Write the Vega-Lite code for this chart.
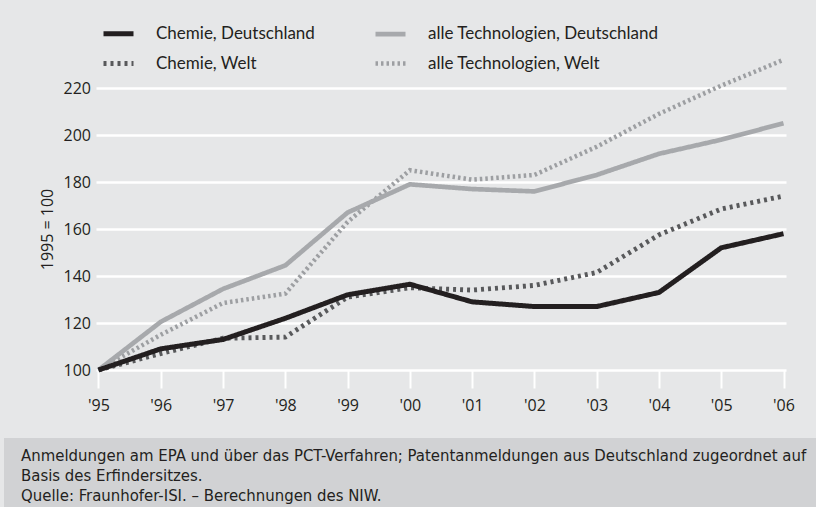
{
  "$schema": "https://vega.github.io/schema/vega-lite/v6.json",
  "background": "#e6e7e8",
  "padding": {"left": 4, "top": 16, "right": 0, "bottom": 0},
  "spacing": 25,
  "config": {"view": {"stroke": null}, "font": "Open Sans"},
  "vconcat": [
    {
      "width": 812,
      "height": 282,
      "data": {
        "values": [
          {"reihe": "alle Technologien, Welt", "jahr": "'95", "wert": 100},
          {"reihe": "alle Technologien, Welt", "jahr": "'96", "wert": 115},
          {"reihe": "alle Technologien, Welt", "jahr": "'97", "wert": 128.5},
          {"reihe": "alle Technologien, Welt", "jahr": "'98", "wert": 132.5},
          {"reihe": "alle Technologien, Welt", "jahr": "'99", "wert": 163},
          {"reihe": "alle Technologien, Welt", "jahr": "'00", "wert": 185},
          {"reihe": "alle Technologien, Welt", "jahr": "'01", "wert": 181},
          {"reihe": "alle Technologien, Welt", "jahr": "'02", "wert": 183},
          {"reihe": "alle Technologien, Welt", "jahr": "'03", "wert": 195},
          {"reihe": "alle Technologien, Welt", "jahr": "'04", "wert": 209},
          {"reihe": "alle Technologien, Welt", "jahr": "'05", "wert": 221},
          {"reihe": "alle Technologien, Welt", "jahr": "'06", "wert": 232},
          {"reihe": "alle Technologien, Deutschland", "jahr": "'95", "wert": 100},
          {"reihe": "alle Technologien, Deutschland", "jahr": "'96", "wert": 120.5},
          {"reihe": "alle Technologien, Deutschland", "jahr": "'97", "wert": 134.5},
          {"reihe": "alle Technologien, Deutschland", "jahr": "'98", "wert": 144.5},
          {"reihe": "alle Technologien, Deutschland", "jahr": "'99", "wert": 167},
          {"reihe": "alle Technologien, Deutschland", "jahr": "'00", "wert": 179},
          {"reihe": "alle Technologien, Deutschland", "jahr": "'01", "wert": 177},
          {"reihe": "alle Technologien, Deutschland", "jahr": "'02", "wert": 176},
          {"reihe": "alle Technologien, Deutschland", "jahr": "'03", "wert": 183},
          {"reihe": "alle Technologien, Deutschland", "jahr": "'04", "wert": 192},
          {"reihe": "alle Technologien, Deutschland", "jahr": "'05", "wert": 198},
          {"reihe": "alle Technologien, Deutschland", "jahr": "'06", "wert": 205},
          {"reihe": "Chemie, Welt", "jahr": "'95", "wert": 100},
          {"reihe": "Chemie, Welt", "jahr": "'96", "wert": 107},
          {"reihe": "Chemie, Welt", "jahr": "'97", "wert": 113.5},
          {"reihe": "Chemie, Welt", "jahr": "'98", "wert": 114},
          {"reihe": "Chemie, Welt", "jahr": "'99", "wert": 131},
          {"reihe": "Chemie, Welt", "jahr": "'00", "wert": 135},
          {"reihe": "Chemie, Welt", "jahr": "'01", "wert": 134},
          {"reihe": "Chemie, Welt", "jahr": "'02", "wert": 136},
          {"reihe": "Chemie, Welt", "jahr": "'03", "wert": 141.5},
          {"reihe": "Chemie, Welt", "jahr": "'04", "wert": 157.5},
          {"reihe": "Chemie, Welt", "jahr": "'05", "wert": 168.5},
          {"reihe": "Chemie, Welt", "jahr": "'06", "wert": 174},
          {"reihe": "Chemie, Deutschland", "jahr": "'95", "wert": 100},
          {"reihe": "Chemie, Deutschland", "jahr": "'96", "wert": 109},
          {"reihe": "Chemie, Deutschland", "jahr": "'97", "wert": 113},
          {"reihe": "Chemie, Deutschland", "jahr": "'98", "wert": 122},
          {"reihe": "Chemie, Deutschland", "jahr": "'99", "wert": 132},
          {"reihe": "Chemie, Deutschland", "jahr": "'00", "wert": 136.5},
          {"reihe": "Chemie, Deutschland", "jahr": "'01", "wert": 129},
          {"reihe": "Chemie, Deutschland", "jahr": "'02", "wert": 127},
          {"reihe": "Chemie, Deutschland", "jahr": "'03", "wert": 127},
          {"reihe": "Chemie, Deutschland", "jahr": "'04", "wert": 133},
          {"reihe": "Chemie, Deutschland", "jahr": "'05", "wert": 152},
          {"reihe": "Chemie, Deutschland", "jahr": "'06", "wert": 158}
        ]
      },
      "mark": {"type": "line", "strokeCap": "butt", "strokeJoin": "miter"},
      "encoding": {
        "x": {
          "field": "jahr",
          "type": "ordinal",
          "scale": {"type": "point", "padding": 0.04, "range": [92, 782], "domain": ["'95", "'96", "'97", "'98", "'99", "'00", "'01", "'02", "'03", "'04", "'05", "'06"]},
          "axis": {
            "title": null, "labelAngle": 0, "labelFont": "Open Sans", "labelFontSize": 16, "labelColor": "#231f20",
            "labelPadding": 9, "ticks": true, "tickColor": "#ffffff", "tickWidth": 2, "tickSize": 18,
            "domain": false, "grid": false
          }
        },
        "y": {
          "field": "wert",
          "type": "quantitative",
          "scale": {"domain": [100, 220], "nice": false, "zero": false},
          "axis": {
            "values": [100, 120, 140, 160, 180, 200, 220], "offset": -91.5,
            "title": "1995 = 100", "titleFont": "Open Sans", "titleFontSize": 16, "titleFontWeight": "normal",
            "titleColor": "#231f20", "titlePadding": 8,
            "labelFont": "Open Sans", "labelFontSize": 16, "labelColor": "#231f20", "labelPadding": 5,
            "ticks": false, "tickSize": 0, "domain": false,
            "grid": true, "gridColor": "#ffffff", "gridWidth": 2.5
          }
        },
        "color": {
          "field": "reihe",
          "type": "nominal",
          "scale": {
            "domain": ["Chemie, Deutschland", "Chemie, Welt", "alle Technologien, Deutschland", "alle Technologien, Welt"],
            "range": ["#231f20", "#58595b", "#a7a9ac", "#9d9fa2"]
          },
          "legend": {
            "orient": "none", "legendX": 97, "legendY": -72, "columns": 2, "symbolType": "stroke", "symbolSize": 900,
            "labelFont": "Lato", "labelFontSize": 17, "labelColor": "#231f20", "labelOffset": 20, "labelLimit": 400,
            "columnPadding": 51, "rowPadding": 2, "padding": 0, "title": null
          }
        },
        "strokeDash": {
          "field": "reihe",
          "type": "nominal",
          "scale": {
            "domain": ["Chemie, Deutschland", "Chemie, Welt", "alle Technologien, Deutschland", "alle Technologien, Welt"],
            "range": [[1, 0], [3, 4], [1, 0], [2.5, 3]]
          },
          "legend": {
            "orient": "none", "legendX": 97, "legendY": -72, "columns": 2, "symbolType": "stroke", "symbolSize": 900,
            "labelFont": "Lato", "labelFontSize": 17, "labelColor": "#231f20", "labelOffset": 20, "labelLimit": 400,
            "columnPadding": 51, "rowPadding": 2, "padding": 0, "title": null
          }
        },
        "strokeWidth": {
          "field": "reihe",
          "type": "ordinal",
          "scale": {
            "domain": ["Chemie, Deutschland", "Chemie, Welt", "alle Technologien, Deutschland", "alle Technologien, Welt"],
            "range": [5, 4.5, 5, 6.5]
          },
          "legend": {
            "orient": "none", "legendX": 97, "legendY": -72, "columns": 2, "symbolType": "stroke", "symbolSize": 900,
            "labelFont": "Lato", "labelFontSize": 17, "labelColor": "#231f20", "labelOffset": 20, "labelLimit": 400,
            "columnPadding": 51, "rowPadding": 2, "padding": 0, "title": null
          }
        }
      }
    },
    {
      "width": 812,
      "height": 69,
      "view": {"fill": "#d1d2d4", "stroke": null},
      "data": {
        "values": [
          {"zeile": 1, "text": "Anmeldungen am EPA und über das PCT-Verfahren; Patentanmeldungen aus Deutschland zugeordnet auf"},
          {"zeile": 2, "text": "Basis des Erfindersitzes."},
          {"zeile": 3, "text": "Quelle: Fraunhofer-ISI. – Berechnungen des NIW."}
        ]
      },
      "mark": {"type": "text", "align": "left", "baseline": "middle", "dx": 17, "dy": 3, "font": "DejaVu Sans Condensed", "fontSize": 16.6, "color": "#231f20", "limit": 0},
      "encoding": {
        "x": {"datum": 0, "type": "quantitative", "scale": {"domain": [0, 1]}, "axis": null},
        "y": {"field": "zeile", "type": "ordinal", "scale": {"padding": 0.725}, "axis": null},
        "text": {"field": "text"}
      }
    }
  ]
}
